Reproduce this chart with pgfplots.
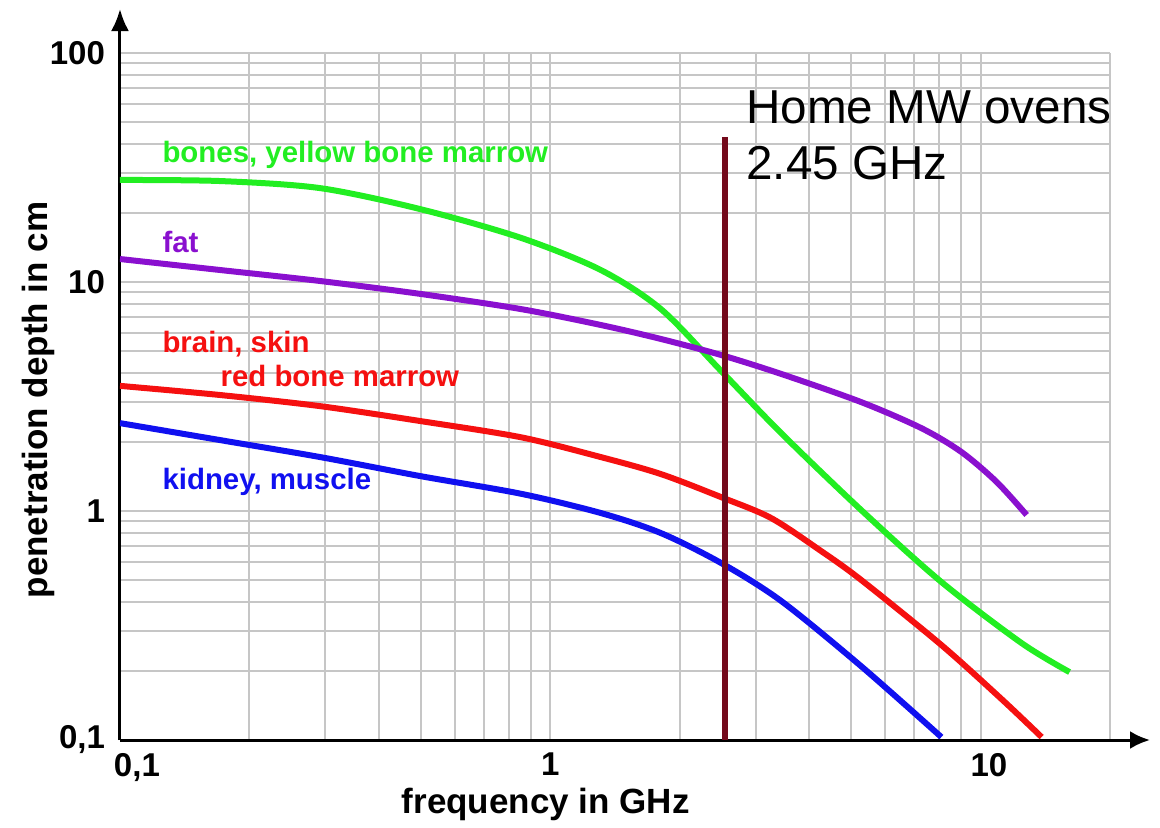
\documentclass[border=0pt]{standalone}
\usepackage{fontspec}
\setmainfont{Liberation Sans}
\usepackage{pgfplots}
\pgfplotsset{compat=1.18}
\usetikzlibrary{arrows.meta}
\definecolor{cgreen}{HTML}{22EE22}
\definecolor{cpurple}{HTML}{8A10CF}
\definecolor{cred}{HTML}{F51010}
\definecolor{cblue}{HTML}{1010F0}
\definecolor{cmaroon}{HTML}{740A1C}
\definecolor{cgrid}{HTML}{C6C6C6}
\begin{document}
\begin{tikzpicture}
\begin{axis}[
  scale only axis, width=495pt, height=343.5pt,
  xmode=log, ymode=log,
  xmin=0.1, xmax=20, ymin=0.1, ymax=100,
  axis lines=left,
  axis line style={line width=1.5pt, black},
  x axis line style={-{Latex[length=10pt,width=9pt]}, shorten >=-20pt},
  y axis line style={-{Latex[length=11pt,width=9pt]}, shorten >=-22pt},
  xtick={0.1,1,10}, ytick={0.1,1,10,100},
  xticklabels={{\makebox[0pt][l]{\kern-3pt 0,1}},1,{\makebox[0pt][l]{\kern-5pt 10}}},
  yticklabels={{0,1},1,10,100},
  minor xtick={0.2,0.3,0.4,0.5,0.6,0.7,0.8,0.9,2,3,4,5,6,7,8,9,20},
  minor ytick={0.2,0.3,0.4,0.5,0.6,0.7,0.8,0.9,2,3,4,5,6,7,8,9,20,30,40,50,60,70,80,90},
  major tick length=0pt, minor tick length=0pt,
  grid=both,
  major grid style={line width=1pt, cgrid},
  minor grid style={line width=1pt, cgrid},
  ticklabel style={font=\bfseries\fontsize{16.5}{16.5}\selectfont},
  xticklabel style={yshift=-3pt},
  yticklabel style={xshift=-4pt},
  xlabel={frequency in GHz},
  ylabel={penetration depth in cm},
  label style={font=\bfseries\fontsize{17.5}{18}\selectfont},
  xlabel style={at={(axis description cs:0.43,-0.1063)}, anchor=base},
  ylabel style={at={(axis description cs:-0.0737,0.495)}, anchor=base},
  every axis plot/.append style={line width=3pt, smooth},
]
% bones, yellow bone marrow
\addplot[cgreen] coordinates {(0.1,27.9)(0.171,27.6)(0.292,25.7)(0.4995,20.8)(0.854,15.6)(1.311,11.28)(1.808,7.62)(2.495,4.09)(3.44,2.19)(5.28,1.01)(8.11,0.490)(12.46,0.265)(16.11,0.198)};
% fat
\addplot[cpurple] coordinates {(0.1,12.6)(0.171,11.28)(0.292,10.1)(0.4995,8.87)(0.854,7.62)(1.311,6.49)(1.808,5.64)(2.495,4.80)(3.44,3.97)(5.28,2.99)(7.29,2.30)(9.03,1.81)(10.9,1.34)(12.80,0.961)};
% brain, skin, red bone marrow
\addplot[cred] coordinates {(0.1,3.52)(0.171,3.21)(0.292,2.87)(0.4995,2.47)(0.854,2.10)(1.311,1.72)(1.808,1.45)(2.495,1.15)(3.26,0.932)(4.26,0.669)(5.28,0.500)(8.11,0.260)(11.19,0.151)(13.87,0.103)};
% kidney, muscle
\addplot[cblue] coordinates {(0.1,2.42)(0.171,2.04)(0.292,1.72)(0.4995,1.42)(0.854,1.19)(1.311,0.980)(1.808,0.801)(2.495,0.593)(3.44,0.405)(5.28,0.210)(8.11,0.103)};
% 2.45 GHz line
\addplot[cmaroon, line width=3.3pt, sharp plot] coordinates {(2.55,0.1)(2.55,43)};
\node[anchor=base west, inner sep=0pt, text=cgreen, font=\bfseries\fontsize{14.7}{17}\selectfont] at (axis cs:0.1253,33.1) {bones, yellow bone marrow};
\node[anchor=base west, inner sep=0pt, text=cpurple, font=\bfseries\fontsize{14.7}{17}\selectfont] at (axis cs:0.1253,13.4) {fat};
\node[anchor=base west, inner sep=0pt, text=cred, font=\bfseries\fontsize{14.7}{17}\selectfont] at (axis cs:0.1253,4.94) {brain, skin};
\node[anchor=base west, inner sep=0pt, text=cred, font=\bfseries\fontsize{14.7}{17}\selectfont] at (axis cs:0.171,3.48) {red bone marrow};
\node[anchor=base west, inner sep=0pt, text=cblue, font=\bfseries\fontsize{14.7}{17}\selectfont] at (axis cs:0.1253,1.24) {kidney, muscle};
\node[anchor=base west, inner sep=0pt, font=\fontsize{23.8}{26}\selectfont] at (axis cs:2.85,49.4) {Home MW ovens};
\node[anchor=base west, inner sep=0pt, font=\fontsize{23.8}{26}\selectfont] at (axis cs:2.85,27.9) {2.45 GHz};
\end{axis}
\pgfresetboundingbox
\path[use as bounding box] ([shift={(-60pt,-43.5pt)}]current axis.south west) rectangle ([shift={(25pt,26.5pt)}]current axis.north east);
\end{tikzpicture}
\end{document}
